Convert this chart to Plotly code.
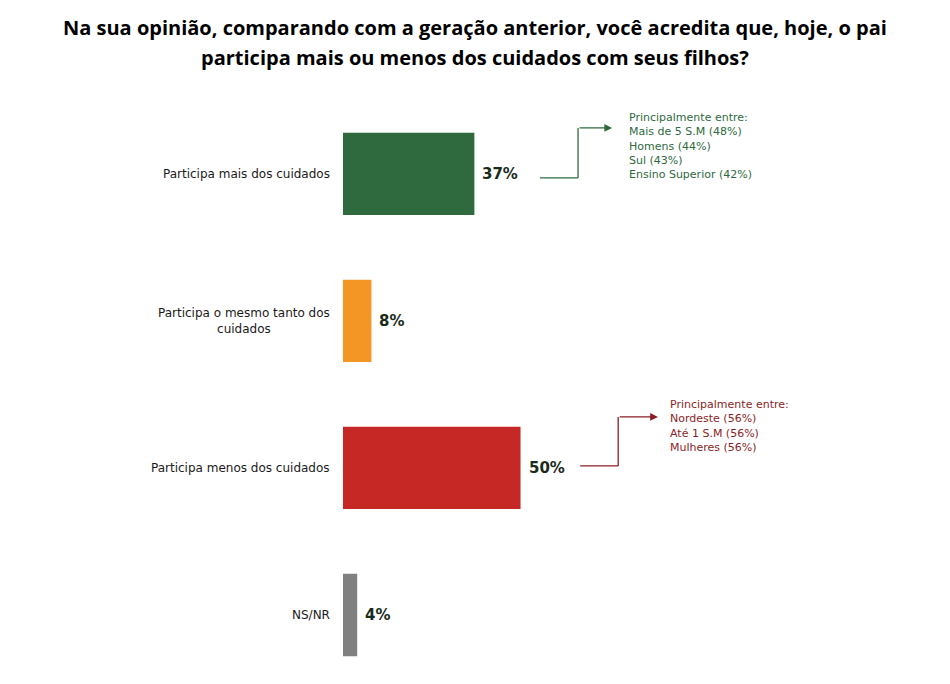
import plotly.graph_objects as go

categorias = [
    "Participa mais dos cuidados",
    "Participa o mesmo tanto dos<br>cuidados",
    "Participa menos dos cuidados",
    "NS/NR",
]
valores = [37, 8, 50, 4]
rotulos = ["37%", "8%", "50%", "4%"]
cores = ["#2E6A3E", "#F39626", "#C62826", "#808080"]

destaque_mais = ["Principalmente entre:", "Mais de 5 S.M (48%)", "Homens (44%)",
                 "Sul (43%)", "Ensino Superior (42%)"]
destaque_menos = ["Principalmente entre:", "Nordeste (56%)", "Até 1 S.M (56%)",
                  "Mulheres (56%)"]

titulo = ["Na sua opinião, comparando com a geração anterior, você acredita que, hoje, o pai",
          "participa mais ou menos dos cuidados com seus filhos?"]

VERDE = "#2E6A3E"
VINHO = "#8B1E24"

fig = go.Figure()
fig.add_trace(go.Bar(
    y=categorias, x=valores, orientation="h",
    marker=dict(color=cores, line=dict(width=0)),
    hoverinfo="skip",
))

# rótulos de valor e das categorias
for cat, v, r in zip(categorias, valores, rotulos):
    fig.add_annotation(x=v, y=cat, xref="x", yref="y", text=r, showarrow=False,
                       xanchor="left", xshift=6,
                       font=dict(family="DejaVu Sans", size=15, color="#1B2B1B",
                                 weight="bold"))
    fig.add_annotation(x=0, y=cat, xref="paper", yref="y", text=cat, showarrow=False,
                       xanchor="right", xshift=-11, align="center",
                       font=dict(family="DejaVu Sans", size=12, color="#1a1a1a"))

# setas "Principalmente entre" (linha em degrau + seta)
def seta(x0, x1, x2, y0, y1, cor):
    fig.add_shape(type="line", x0=x0, x1=x1, y0=y0, y1=y0, xref="x", yref="y",
                  line=dict(color=cor, width=1.3))
    fig.add_shape(type="line", x0=x1, x1=x1, y0=y0, y1=y1, xref="x", yref="y",
                  line=dict(color=cor, width=1.3))
    fig.add_annotation(x=x2, y=y1, ax=x1, ay=y1, xref="x", yref="y",
                       axref="x", ayref="y", text="", showarrow=True,
                       arrowhead=2, arrowsize=1.2, arrowwidth=1.3, arrowcolor=cor)

seta(55.5, 66.2, 75.8, 0.027, -0.313, VERDE)
seta(66.8, 77.5, 88.7, 1.986, 1.653, VINHO)

fig.add_annotation(x=80.0, y=-0.44, xref="x", yref="y", xanchor="left", yanchor="top",
                   text="<br>".join(destaque_mais), showarrow=False, align="left",
                   font=dict(family="DejaVu Sans", size=11, color=VERDE))
fig.add_annotation(x=91.5, y=1.51, xref="x", yref="y", xanchor="left", yanchor="top",
                   text="<br>".join(destaque_menos), showarrow=False, align="left",
                   font=dict(family="DejaVu Sans", size=11, color=VINHO))

for linha, yp in zip(titulo, [1.1233, 1.0726]):
    fig.add_annotation(x=0.2154, y=yp, xref="paper", yref="paper", text=linha,
                       showarrow=False, xanchor="center", yanchor="middle",
                       font=dict(family="Open Sans", size=20, color="black",
                                 weight="bold"))

fig.update_layout(
    width=950, height=684,
    margin=dict(l=335, r=0, t=92, b=0),
    paper_bgcolor="white", plot_bgcolor="white",
    bargap=0.44, showlegend=False,
    xaxis=dict(range=[0, 173.2], visible=False, fixedrange=True),
    yaxis=dict(range=[3.524, -0.503], showgrid=False, zeroline=False, showline=False,
               showticklabels=False, ticks=""),
)

fig.write_html("out.html")
